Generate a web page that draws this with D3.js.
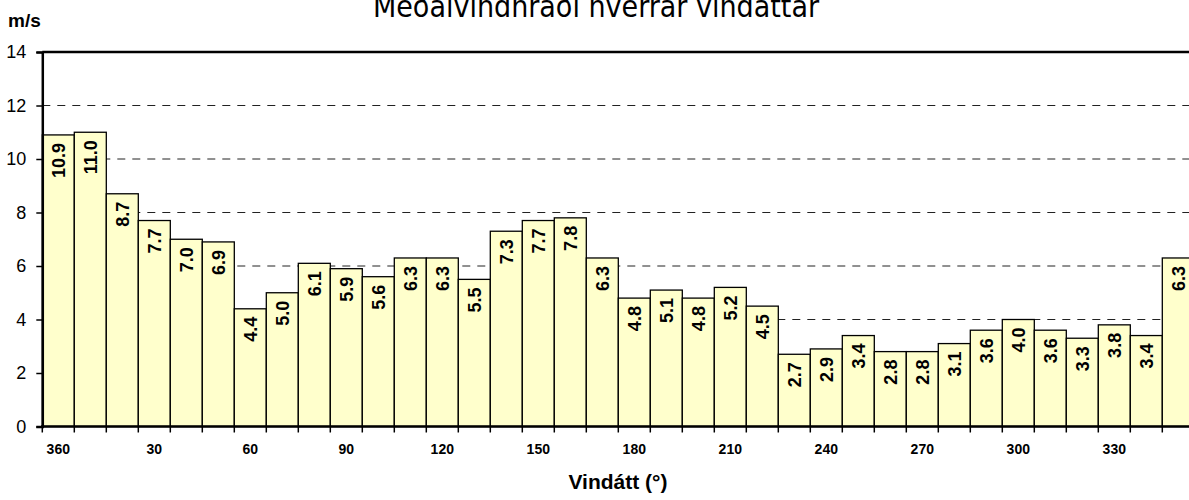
<!DOCTYPE html>
<html>
<head>
<meta charset="utf-8">
<script src="https://cdn.jsdelivr.net/npm/d3@7"></script>
<style>
  body { margin: 0; background: #fff; }
  svg { display: block; }
</style>
</head>
<body>
<div id="chart"></div>
<script>
// wind direction categories, 10 degree steps starting at north (360)
const directions = [360, 10, 20, 30, 40, 50, 60, 70, 80, 90, 100, 110, 120, 130, 140, 150, 160, 170,
  180, 190, 200, 210, 220, 230, 240, 250, 260, 270, 280, 290, 300, 310, 320, 330, 340, 350];
// mean wind speed per direction, m/s
const meanSpeed = [10.9, 11.0, 8.7, 7.7, 7.0, 6.9, 4.4, 5.0, 6.1, 5.9, 5.6, 6.3, 6.3, 5.5, 7.3, 7.7, 7.8, 6.3,
  4.8, 5.1, 4.8, 5.2, 4.5, 2.7, 2.9, 3.4, 2.8, 2.8, 3.1, 3.6, 4.0, 3.6, 3.3, 3.8, 3.4, 6.3];
const xTickLabels = [360, 30, 60, 90, 120, 150, 180, 210, 240, 270, 300, 330];
const yTicks = [0, 2, 4, 6, 8, 10, 12, 14];

const W = 1189, H = 500;
const margin = {top: 52, left: 42.3, bottom: 73};

const svg = d3.select("#chart").append("svg")
  .attr("width", W)
  .attr("height", H);

// plot area runs a little past the right edge of the window, like the original
const x = d3.scaleBand()
  .domain(directions)
  .range([margin.left, margin.left + 36 * 32])
  .padding(0);

const y = d3.scaleLinear()
  .domain([0, 14])
  .range([H - margin.bottom - 0.5, margin.top]);

// dashed gridlines
svg.append("g")
  .selectAll("line")
  .data(yTicks.filter(d => d > 0 && d < 14))
  .join("line")
  .attr("x1", margin.left)
  .attr("x2", W)
  .attr("y1", d => y(d))
  .attr("y2", d => y(d))
  .attr("stroke", "#222")
  .attr("stroke-width", 1)
  .attr("stroke-dasharray", "8,7");

// top border of plot area
svg.append("line")
  .attr("x1", margin.left)
  .attr("x2", W)
  .attr("y1", y(14))
  .attr("y2", y(14))
  .attr("stroke", "#000")
  .attr("stroke-width", 2.5);

// bars
svg.append("g")
  .selectAll("rect")
  .data(meanSpeed)
  .join("rect")
  .attr("x", (d, i) => x(directions[i]))
  .attr("y", d => y(d))
  .attr("width", x.bandwidth())
  .attr("height", d => y(0) - y(d))
  .attr("fill", "#ffffcc")
  .attr("stroke", "#000")
  .attr("stroke-width", 1.3);

// value labels, rotated inside the top of each bar
svg.append("g")
  .selectAll("text")
  .data(meanSpeed)
  .join("text")
  .attr("transform", (d, i) => `translate(${x(directions[i]) + x.bandwidth() / 2 + 1},${y(d) + 8}) rotate(-90)`)
  .attr("text-anchor", "end")
  .attr("dominant-baseline", "central")
  .style("font-family", "Arial, 'Liberation Sans', sans-serif")
  .style("font-weight", "bold")
  .style("font-size", "18px")
  .text(d => d.toFixed(1));

// y axis
const yAxis = svg.append("g")
  .attr("transform", `translate(${margin.left},0)`)
  .call(d3.axisLeft(y).tickValues(yTicks).tickSize(6).tickPadding(10).tickFormat(d3.format("d")));
yAxis.select(".domain").attr("stroke-width", 2.5);
yAxis.selectAll(".tick line").attr("stroke-width", 1.5);
yAxis.selectAll(".tick text")
  .style("font-family", "Arial, 'Liberation Sans', sans-serif")
  .style("font-size", "18px")
  .attr("fill", "#000");

// x axis: tick at every bar boundary, label on every third bar
const xAxisY = y(0);
svg.append("line")
  .attr("x1", margin.left - 1.2)
  .attr("x2", W)
  .attr("y1", xAxisY)
  .attr("y2", xAxisY)
  .attr("stroke", "#000")
  .attr("stroke-width", 2.5);

svg.append("g")
  .selectAll("line")
  .data(directions)
  .join("line")
  .attr("x1", d => x(d))
  .attr("x2", d => x(d))
  .attr("y1", xAxisY)
  .attr("y2", xAxisY + 6)
  .attr("stroke", "#000")
  .attr("stroke-width", 1.5);

svg.append("g")
  .selectAll("text")
  .data(xTickLabels)
  .join("text")
  .attr("x", d => x(d) + x.bandwidth() / 2)
  .attr("y", xAxisY + 27)
  .attr("text-anchor", "middle")
  .style("font-family", "Arial, 'Liberation Sans', sans-serif")
  .style("font-weight", "bold")
  .style("font-size", "14px")
  .text(d => d);

// axis titles
svg.append("text")
  .attr("x", 8)
  .attr("y", 27)
  .style("font-family", "Arial, 'Liberation Sans', sans-serif")
  .style("font-weight", "bold")
  .style("font-size", "19px")
  .text("m/s");

svg.append("text")
  .attr("x", 618)
  .attr("y", 489)
  .attr("text-anchor", "middle")
  .style("font-family", "Arial, 'Liberation Sans', sans-serif")
  .style("font-weight", "bold")
  .style("font-size", "21px")
  .text("Vindátt (°)");

// chart title, its top is cut by the window edge in the source image
svg.append("text")
  .attr("x", 596)
  .attr("y", 17)
  .attr("text-anchor", "middle")
  .style("font-family", "'DejaVu Sans Condensed', 'DejaVu Sans', sans-serif")
  .style("font-size", "30px")
  .text("Meðalvindhraði hverrar vindáttar");
</script>
</body>
</html>
